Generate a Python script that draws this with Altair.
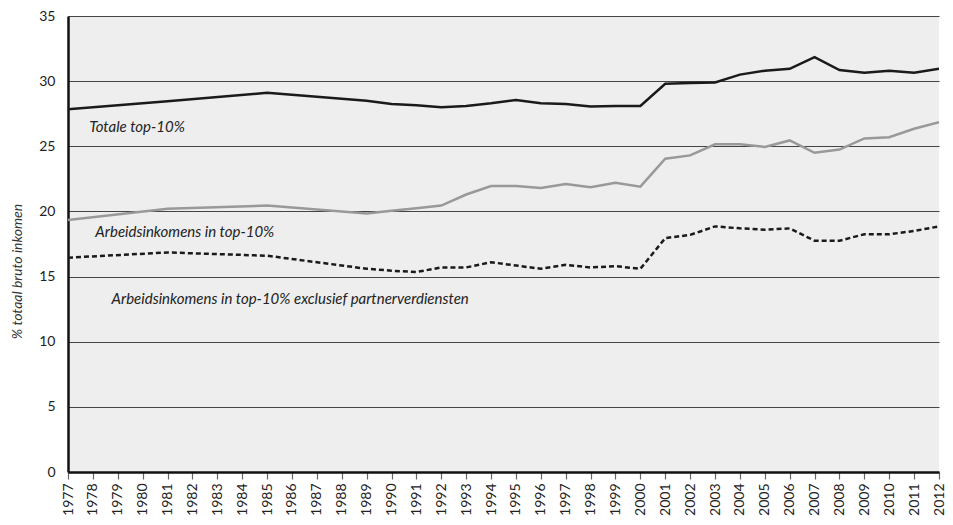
import altair as alt
import pandas as pd

years = [1977, 1981, 1985, 1989, 1990, 1991, 1992, 1993, 1994, 1995, 1996, 1997,
         1998, 1999, 2000, 2001, 2002, 2003, 2004, 2005, 2006, 2007, 2008, 2009,
         2010, 2011, 2012]
totale = [27.85, 28.45, 29.1, 28.5, 28.25, 28.15, 28.0, 28.1, 28.3, 28.55, 28.3, 28.25,
          28.05, 28.1, 28.1, 29.8, 29.85, 29.9, 30.5, 30.8, 30.95, 31.85, 30.85, 30.65,
          30.8, 30.65, 30.95]
arbeid = [19.35, 20.2, 20.45, 19.85, 20.05, 20.25, 20.45, 21.3, 21.95, 21.95, 21.8, 22.1,
          21.85, 22.2, 21.9, 24.05, 24.3, 25.15, 25.15, 24.95, 25.45, 24.5, 24.75, 25.6,
          25.7, 26.35, 26.85]
excl = [16.45, 16.85, 16.6, 15.6, 15.45, 15.35, 15.7, 15.7, 16.1, 15.85, 15.6, 15.9,
        15.7, 15.8, 15.6, 17.95, 18.2, 18.85, 18.7, 18.6, 18.7, 17.75, 17.75, 18.25,
        18.25, 18.5, 18.85]

series_names = ["Totale top-10%", "Arbeidsinkomens in top-10%",
                "Arbeidsinkomens in top-10% exclusief partnerverdiensten"]
label_x = [1977.85, 1978.1, 1978.75]
label_y = [26.5, 18.4, 13.3]

tick_years = list(range(1977, 2013))
y_ticks = [0, 5, 10, 15, 20, 25, 30, 35]

rows = []
for name, vals in zip(series_names, [totale, arbeid, excl]):
    for yr, v in zip(years, vals):
        rows.append({"jaar": yr, "waarde": v, "reeks": name})
df = pd.DataFrame(rows)
lab = pd.DataFrame({"jaar": label_x, "waarde": label_y, "t": series_names})

FONT = "Lato"

xscale = alt.Scale(domain=[1977, 2012], nice=False, zero=False)
yscale = alt.Scale(domain=[0, 35], nice=False)

xaxis = alt.Axis(values=tick_years, format="d", labelAngle=-90, labelAlign="right",
                 labelBaseline="middle", labelFontSize=14, labelColor="#222",
                 labelFont=FONT, labelPadding=4, tickSize=7, tickColor="#666",
                 tickWidth=1.2, domainColor="#111", domainWidth=2.5, grid=False,
                 title=None, labelOverlap=False, labelFlush=False, labelBound=False)
yaxis = alt.Axis(values=y_ticks, labelFontSize=14, labelColor="#222", labelFont=FONT,
                 labelPadding=13, ticks=False, domainColor="#111", domainWidth=2.5,
                 grid=True, gridColor="#444", gridWidth=1, labelOverlap=False,
                 title="% totaal bruto inkomen", titleFont=FONT, titleFontSize=14,
                 titleFontStyle="italic", titleFontWeight="normal", titleColor="#333",
                 titleAngle=-90, titleX=-51, titleY=255, titleAlign="center",
                 titleBaseline="middle")

X = alt.X("jaar:Q", scale=xscale, axis=xaxis)
Y = alt.Y("waarde:Q", scale=yscale, axis=yaxis)

base = alt.Chart(df)

def line(name, color, dash=None, width=2.5):
    kw = dict(color=color, strokeWidth=width, clip=True)
    if dash:
        kw["strokeDash"] = dash
    return base.transform_filter(alt.datum.reeks == name).mark_line(**kw).encode(x=X, y=Y)

l1 = line(series_names[0], "#1a1a1a")
l2 = line(series_names[1], "#999999")
l3 = line(series_names[2], "#1a1a1a", dash=[5, 3], width=2.5)

texts = alt.Chart(lab).mark_text(align="left", baseline="middle", font=FONT,
                                 fontSize=15, fontStyle="italic", color="#222").encode(
    x=X, y=Y, text="t:N",
)

chart = alt.layer(l1, l2, l3, texts).properties(
    width=871, height=456,
    autosize=alt.AutoSizeParams(type="none"),
    padding={"left": 60, "top": 8, "right": 6, "bottom": 45},
    background="white",
).configure_view(fill="#eeeeee", stroke=None)

chart.save("out.html", embed_options={"renderer": "svg", "actions": False})
